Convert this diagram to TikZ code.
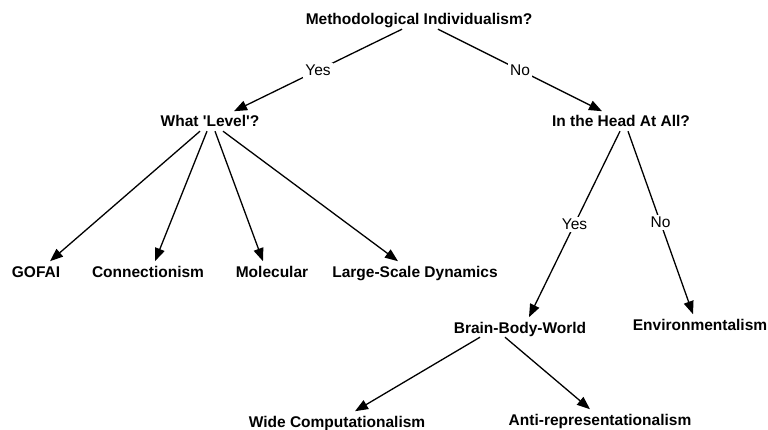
\documentclass[tikz,border=0pt]{standalone}
\usepackage{fontspec}
\setmainfont{Liberation Sans}
\usepackage{tikz}
\usetikzlibrary{arrows.meta}

\begin{document}
\begin{tikzpicture}[x=1pt, y=-1pt,
    % 1. Estilo base de los textos del arbol
    term/.style={
        anchor=base, font=\fontsize{15.5}{18}\selectfont\bfseries,
        text height=11.6pt, text depth=0pt,
        inner xsep=2pt, inner ysep=4pt
    },
    % 2. Etiquetas Yes / No sobre las flechas
    answer/.style={
        font=\fontsize{15.5}{18}\selectfont,
        fill=white, inner sep=2pt
    },
    % 3. Flechas negras con punta triangular
    arrow/.style={
        -{Triangle[length=13pt, width=10pt]},
        line width=1.3pt, color=black
    }
]
    \path[use as bounding box, fill=white] (0,0) rectangle (768,430);

    % --- NIVEL 1 ---
    \node[term] (meth) at (419, 25) {Methodological Individualism?};

    % --- NIVEL 2 ---
    \node[term] (level) at (210, 127) {What \textquotesingle Level\textquotesingle?};
    \node[term] (head) at (621, 127) {In the Head At All?};

    \draw[arrow] ([xshift=-17pt]meth.south) -- node[answer] {Yes} ([xshift=24pt]level.north);
    \draw[arrow] ([xshift=19pt]meth.south) -- node[answer] {No} ([xshift=-19pt]head.north);

    % --- NIVEL 3 ---
    \node[term] (gofai) at (36, 277) {GOFAI};
    \node[term] (conn) at (148, 277) {Connectionism};
    \node[term] (mol) at (272, 277) {Molecular};
    \node[term] (dyn) at (415, 277) {Large-Scale Dynamics};

    \draw[arrow] ([xshift=-10pt]level.south) -- ([xshift=14pt]gofai.north);
    \draw[arrow] ([xshift=-3pt]level.south) -- ([xshift=7pt]conn.north);
    \draw[arrow] ([xshift=5pt]level.south) -- ([xshift=-9pt]mol.north);
    \draw[arrow] ([xshift=13pt]level.south) -- ([xshift=-17pt]dyn.north);

    \node[term] (bbw) at (520, 333) {Brain-Body-World};
    \node[term] (env) at (700, 330) {Environmentalism};

    \draw[arrow] ([xshift=-1pt]head.south) -- node[answer] {Yes} ([xshift=9pt]bbw.north);
    \draw[arrow] ([xshift=7pt]head.south) -- node[answer] {No} ([xshift=-7pt]env.north);

    % --- NIVEL 4 ---
    \node[term] (wide) at (337, 427) {Wide Computationalism};
    \node[term] (anti) at (600, 425) {Anti-representationalism};

    \draw[arrow] ([xshift=-40pt]bbw.south) -- ([xshift=18pt]wide.north);
    \draw[arrow] ([xshift=-15pt]bbw.south) -- ([xshift=-10pt]anti.north);

\end{tikzpicture}
\end{document}
